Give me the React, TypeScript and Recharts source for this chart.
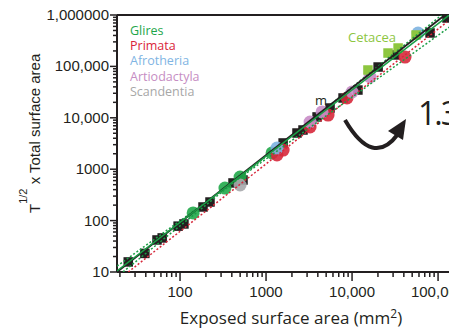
import { ScatterChart, Scatter, XAxis, YAxis, ReferenceLine, Customized } from "recharts";

const INK = "#231f20";
const SANS = "'Liberation Sans', Arial, sans-serif";
const MYRIAD = "'Open Sans', sans-serif";

// points: x = exposed area (mm2), y = T^1/2 x total area
const mammals = [
  { x: 25, y: 15.7 }, { x: 39, y: 23 }, { x: 54, y: 42 }, { x: 62, y: 46 },
  { x: 95, y: 78 }, { x: 111, y: 86 }, { x: 185, y: 184 }, { x: 223, y: 230 },
  { x: 413, y: 540 }, { x: 540, y: 617 }, { x: 1580, y: 3240 }, { x: 2290, y: 5060 },
  { x: 2690, y: 5790 }, { x: 3920, y: 10400 }, { x: 5550, y: 15500 }, { x: 7860, y: 24300 },
  { x: 11700, y: 34700 }, { x: 20100, y: 97300 }, { x: 31600, y: 167000 },
  { x: 80700, y: 447000 }, { x: 127000, y: 875000 },
];
const glires = [{ x: 142, y: 141 }, { x: 333, y: 430 }, { x: 499, y: 705 }, { x: 1175, y: 2070 }];
const primata = [
  { x: 1340, y: 1890 }, { x: 1580, y: 2360 }, { x: 3250, y: 6620 },
  { x: 5260, y: 11300 }, { x: 8740, y: 24300 }, { x: 41300, y: 152000 },
];
const afrotheria = [{ x: 1340, y: 2580 }, { x: 58500, y: 447000 }];
const artiodactyla = [{ x: 3250, y: 8280 }, { x: 4480, y: 13000 }, { x: 10000, y: 31800 }, { x: 16200, y: 62200 }];
const scandentia = [{ x: 499, y: 493 }];
const cetacea = [{ x: 15300, y: 85100 }, { x: 26200, y: 182000 }, { x: 34300, y: 228000 }, { x: 55500, y: 408000 }];

// fitted lines (end points)
const fitAll = [{ x: 18.5, y: 10 }, { x: 120000, y: 1000000 }];
const fitGlires = [{ x: 18.5, y: 10.5 }, { x: 135000, y: 1000000 }];
const glLow = [{ x: 18.5, y: 13 }, { x: 158000, y: 698000 }];
const glHigh = [{ x: 20, y: 9 }, { x: 110000, y: 1000000 }];
const fitPrimata = [{ x: 25, y: 10 }, { x: 127000, y: 730000 }];

const xTicks = [
  20, 30, 40, 50, 60, 70, 80, 90, 100, 200, 300, 400, 500, 600, 700, 800, 900,
  1000, 2000, 3000, 4000, 5000, 6000, 7000, 8000, 9000, 10000, 20000, 30000,
  40000, 50000, 60000, 70000, 80000, 90000, 100000,
];
const yTicks = [
  10, 20, 30, 40, 50, 60, 70, 80, 90, 100, 200, 300, 400, 500, 600, 700, 800, 900,
  1000, 2000, 3000, 4000, 5000, 6000, 7000, 8000, 9000, 10000, 20000, 30000, 40000,
  50000, 60000, 70000, 80000, 90000, 100000, 200000, 300000, 400000, 500000, 600000,
  700000, 800000, 900000, 1000000,
];
const xLabels: Record<number, string> = { 100: "100", 1000: "1000", 10000: "10,000", 100000: "100,000" };
const yLabels: Record<number, string> = {
  10: "10", 100: "100", 1000: "1000", 10000: "10,000", 100000: "100,000", 1000000: "1,000000",
};

const legend = [
  { name: "Glires", color: "#1ea54a" },
  { name: "Primata", color: "#d9263a" },
  { name: "Afrotheria", color: "#7fb5e3" },
  { name: "Artiodactyla", color: "#c68dc3" },
  { name: "Scandentia", color: "#a7a7a7" },
];

const XTick = (props: any) => {
  const { x, y, payload } = props;
  const label = xLabels[payload.value];
  return (
    <g>
      <line x1={x} x2={x} y1={y} y2={y + (label ? 9 : 5)} stroke={INK} strokeWidth={1.5} />
      {label && (
        <text x={x} y={y + 25} textAnchor="middle" fontSize={15} fontFamily={SANS} fill={INK}>
          {label}
        </text>
      )}
    </g>
  );
};

const YTick = (props: any) => {
  const { x, y, payload } = props;
  const label = yLabels[payload.value];
  return (
    <g>
      <line x1={x - (label ? 7 : 4)} x2={x} y1={y} y2={y} stroke={INK} strokeWidth={1.5} />
      {label && (
        <text x={x - 8} y={y + 5} textAnchor="end" fontSize={15} fontFamily={SANS} fill={INK}>
          {label}
        </text>
      )}
    </g>
  );
};

const square = (color: string) => (p: any) => (
  <rect x={p.cx - 4.75} y={p.cy - 4.75} width={9.5} height={9.5} fill={color} />
);
const dot = (color: string) => (p: any) => (
  <circle cx={p.cx} cy={p.cy} r={6.5} fill={color} fillOpacity={0.9} />
);
const none = () => <g />;

const Annotations = () => (
  <g>
    {legend.map((l, i) => (
      <text key={l.name} x={122} y={26.5 + i * 15.4} fontSize={12.5} fontFamily={MYRIAD} fill={l.color}>
        {l.name}
      </text>
    ))}
    <text x={340} y={34} fontSize={13} fontFamily={MYRIAD} fill="#8dc63f">Cetacea</text>
    <text x={307} y={97} fontSize={13} fontFamily={MYRIAD} fill={INK}>m</text>
    <text x={410} y={117} fontSize={32} letterSpacing={-2} fontFamily={MYRIAD} fill={INK}>1.3</text>
    <path d="M337,112 Q365,160 390,126" fill="none" stroke={INK} strokeWidth={4} />
    <polygon points="398,111 380,123 395,132" fill={INK} />
    <text transform="translate(32,205) rotate(-90)" fontSize={15} fontFamily={SANS} fill={INK}>
      T<tspan dy={-13} fontSize={11}>1/2</tspan>
      <tspan dy={13}> x Total surface area</tspan>
    </text>
    <text x={283} y={316} textAnchor="middle" fontSize={17} fontFamily={MYRIAD} fill={INK}>
      Exposed surface area (mm<tspan dy={-6} fontSize={12}>2</tspan>
      <tspan dy={6}>)</tspan>
    </text>
  </g>
);

export default function App() {
  return (
    <ScatterChart width={449} height={320} margin={{ top: 7, right: 0, bottom: 0, left: 0 }}>
      <XAxis
        type="number"
        dataKey="x"
        scale="log"
        domain={[18.5, 166000]}
        allowDataOverflow
        ticks={xTicks}
        interval={0}
        tickSize={0}
        tickMargin={0}
        tick={<XTick />}
        tickLine={false}
        axisLine={{ stroke: INK, strokeWidth: 2 }}
        height={56}
      />
      <YAxis
        type="number"
        dataKey="y"
        scale="log"
        domain={[10, 1000000]}
        allowDataOverflow
        ticks={yTicks}
        interval={0}
        tickSize={0}
        tickMargin={0}
        tick={<YTick />}
        tickLine={false}
        axisLine={{ stroke: INK, strokeWidth: 2 }}
        width={109}
      />
      <ReferenceLine y={1000000} stroke={INK} strokeWidth={2} />
      <Scatter data={mammals} shape={square(INK)} isAnimationActive={false} />
      <Scatter data={glires} shape={dot("#21a84a")} isAnimationActive={false} />
      <Scatter data={primata} shape={dot("#d7283b")} isAnimationActive={false} />
      <Scatter data={afrotheria} shape={dot("#7db3e0")} isAnimationActive={false} />
      <Scatter data={artiodactyla} shape={dot("#c88cc6")} isAnimationActive={false} />
      <Scatter data={scandentia} shape={dot("#a7a9ac")} isAnimationActive={false} />
      <Scatter data={cetacea} shape={square("#8dc63f")} isAnimationActive={false} />
      <Scatter data={fitPrimata} shape={none} line={{ stroke: "#d7283b", strokeWidth: 1.5, strokeDasharray: "2 2" }} isAnimationActive={false} />
      <Scatter data={glLow} shape={none} line={{ stroke: "#1a9e45", strokeWidth: 1.5, strokeDasharray: "2 2" }} isAnimationActive={false} />
      <Scatter data={glHigh} shape={none} line={{ stroke: "#1a9e45", strokeWidth: 1.5, strokeDasharray: "2 2" }} isAnimationActive={false} />
      <Scatter data={fitAll} shape={none} line={{ stroke: INK, strokeWidth: 1.8 }} isAnimationActive={false} />
      <Scatter data={fitGlires} shape={none} line={{ stroke: "#1a9e45", strokeWidth: 1.5 }} isAnimationActive={false} />
      <Customized component={<Annotations />} />
    </ScatterChart>
  );
}
